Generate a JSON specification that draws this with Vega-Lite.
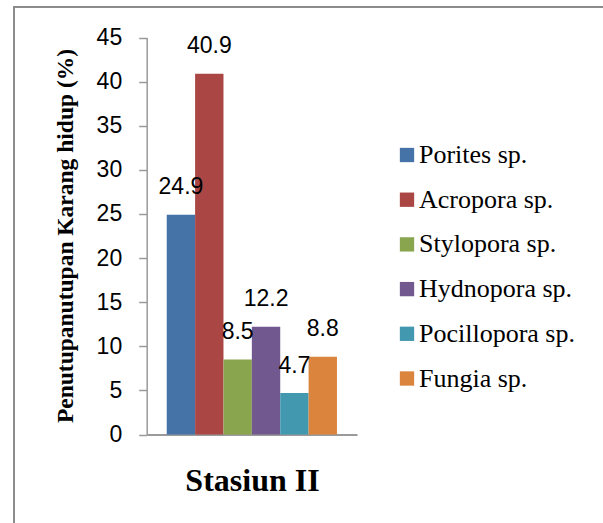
{
  "$schema": "https://vega.github.io/schema/vega-lite/v6.json",
  "autosize": "none",
  "width": 589,
  "height": 516,
  "padding": {"left": 14, "top": 7, "right": 0, "bottom": 0},
  "background": "white",
  "config": {
    "view": {"stroke": "#8c8c8c", "strokeWidth": 2, "strokeDash": [589, 1105, 516]},
    "legend": {
      "orient": "none",
      "legendX": 380,
      "legendY": 135,
      "padding": 0,
      "labelFont": "Liberation Serif",
      "labelFontSize": 26,
      "labelColor": "black",
      "labelLimit": 400,
      "labelOffset": -1,
      "symbolType": "square",
      "symbolSize": 205,
      "symbolStrokeWidth": 0,
      "rowPadding": 18.7
    }
  },
  "data": {
    "values": [
      {"station": "Stasiun II", "species": "Porites sp.", "cover": 24.9},
      {"station": "Stasiun II", "species": "Acropora sp.", "cover": 40.9},
      {"station": "Stasiun II", "species": "Stylopora sp.", "cover": 8.5},
      {"station": "Stasiun II", "species": "Hydnopora sp.", "cover": 12.2},
      {"station": "Stasiun II", "species": "Pocillopora sp.", "cover": 4.7},
      {"station": "Stasiun II", "species": "Fungia sp.", "cover": 8.8}
    ]
  },
  "encoding": {
    "x": {
      "field": "species",
      "type": "nominal",
      "sort": ["Porites sp.", "Acropora sp.", "Stylopora sp.", "Hydnopora sp.", "Pocillopora sp.", "Fungia sp."],
      "scale": {"range": [132.7, 343], "paddingInner": 0, "paddingOuter": 0.706},
      "axis": {
        "title": "Stasiun II",
        "orient": "bottom",
        "offset": -88.5,
        "labels": false,
        "ticks": false,
        "domainColor": "#9a9a9a",
        "domainWidth": 2,
        "titleFont": "Liberation Serif",
        "titleFontWeight": "bold",
        "titleFontSize": 32,
        "titleColor": "black",
        "titleX": 238,
        "titleY": 45.5,
        "titleBaseline": "middle",
        "titleAlign": "center"
      }
    },
    "y": {
      "field": "cover",
      "type": "quantitative",
      "scale": {"domain": [0, 45], "range": [427.5, 30.5], "nice": false, "zero": true},
      "axis": {
        "title": "Penutupanutupan Karang hidup (%)",
        "orient": "left",
        "offset": -132.7,
        "values": [0, 5, 10, 15, 20, 25, 30, 35, 40, 45],
        "grid": false,
        "domainColor": "#9a9a9a",
        "domainWidth": 1.5,
        "tickColor": "#9a9a9a",
        "tickWidth": 1.5,
        "tickSize": 8,
        "labelPadding": 17,
        "labelFont": "Liberation Sans",
        "labelFontSize": 23,
        "labelColor": "black",
        "titleFont": "Liberation Serif",
        "titleFontWeight": "bold",
        "titleFontSize": 23.5,
        "titleColor": "black",
        "titleAngle": 270,
        "titleX": -81.5,
        "titleY": 228.5,
        "titleBaseline": "middle",
        "titleAlign": "center"
      }
    }
  },
  "layer": [
    {
      "mark": {"type": "bar"},
      "encoding": {
        "color": {
          "field": "species",
          "type": "nominal",
          "title": null,
          "scale": {
            "domain": ["Porites sp.", "Acropora sp.", "Stylopora sp.", "Hydnopora sp.", "Pocillopora sp.", "Fungia sp."],
            "range": ["#4572A7", "#AA4643", "#89A54E", "#71588F", "#4198AF", "#DB843D"]
          }
        }
      }
    },
    {
      "mark": {"type": "text", "baseline": "middle", "align": "center", "dy": -27.5, "font": "Liberation Sans", "fontSize": 23, "color": "black"},
      "encoding": {"text": {"field": "cover", "type": "quantitative", "format": ".1f"}}
    }
  ]
}
